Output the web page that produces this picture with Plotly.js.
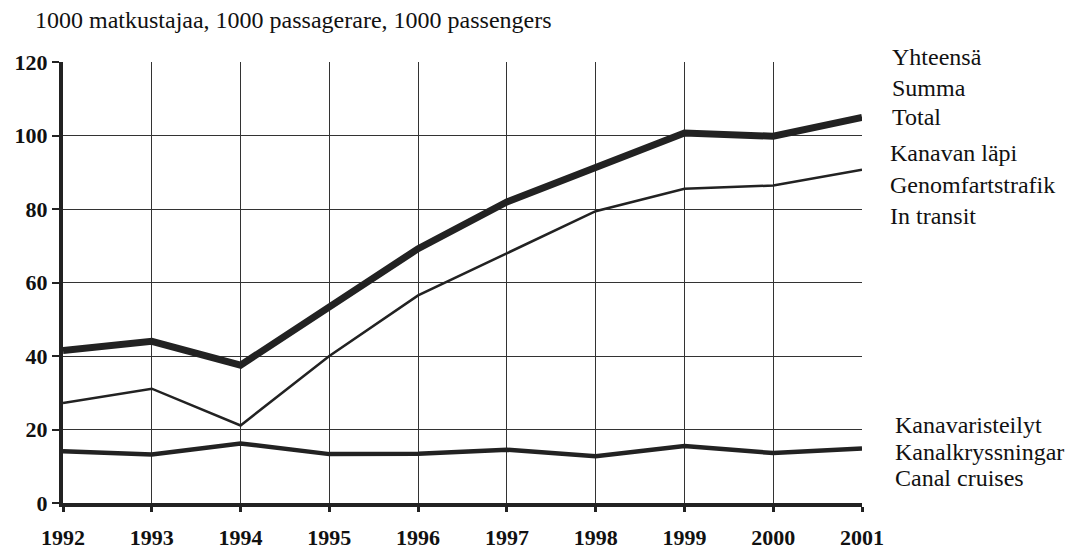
<!DOCTYPE html>
<html>
<head>
<meta charset="utf-8">
<script src="https://cdn.plot.ly/plotly-3.0.1.min.js"></script>
<style>html,body{margin:0;padding:0;background:#fff;}#chart{width:1074px;height:550px;}</style>
</head>
<body>
<div id="chart"></div>
<script>
const years = [1992, 1993, 1994, 1995, 1996, 1997, 1998, 1999, 2000, 2001];
const total = [41.5, 44.0, 37.5, 53.3, 69.2, 81.9, 91.3, 100.7, 99.8, 104.9];
const transit = [27.2, 31.1, 21.1, 40.0, 56.5, 67.9, 79.4, 85.5, 86.4, 90.7];
const cruises = [14.1, 13.2, 16.2, 13.3, 13.4, 14.5, 12.7, 15.5, 13.6, 14.8];
const yTicks = [0, 20, 40, 60, 80, 100, 120];
const unitLabel = "1000 matkustajaa, 1000 passagerare, 1000 passengers";
const totalLabels = ["Yhteensä", "Summa", "Total"];
const transitLabels = ["Kanavan läpi", "Genomfartstrafik", "In transit"];
const cruiseLabels = ["Kanavaristeilyt", "Kanalkryssningar", "Canal cruises"];

const ink = "#222";
const traces = [
  {x: years, y: total, mode: "lines", line: {color: ink, width: 7}, hoverinfo: "skip"},
  {x: years, y: transit, mode: "lines", line: {color: ink, width: 2.5}, hoverinfo: "skip"},
  {x: years, y: cruises, mode: "lines", line: {color: ink, width: 4.5}, hoverinfo: "skip"}
];

const serif = "\"Liberation Serif\", \"Times New Roman\", serif";
const yMax = 120;
const ann = [];
function addGroup(labels, ys, x) {
  labels.forEach((t, i) => ann.push({
    text: t, xref: "paper", yref: "paper", x: x, y: ys[i] / yMax, xanchor: "left", yanchor: "middle",
    showarrow: false, font: {family: serif, size: 24, color: "#111"}
  }));
}
addGroup(totalLabels, [121.3, 112.8, 105.0], 1.035);
addGroup(transitLabels, [95.2, 86.4, 78.2], 1.033);
addGroup(cruiseLabels, [21.1, 13.8, 6.7], 1.039);
ann.push({
  text: unitLabel, xref: "paper", yref: "paper", x: -0.038, y: 1.095, xanchor: "left", yanchor: "middle",
  showarrow: false, font: {family: serif, size: 24, color: "#111"}
});

const layout = {
  width: 1074, height: 550,
  margin: {l: 63, r: 212, t: 62, b: 47},
  paper_bgcolor: "#fff", plot_bgcolor: "#fff",
  showlegend: false,
  font: {family: serif, color: "#111"},
  xaxis: {
    range: [1992, 2001], tickvals: years, ticktext: years.map(String),
    showgrid: true, gridcolor: "#333", gridwidth: 1,
    showline: true, linecolor: ink, linewidth: 4,
    ticks: "outside", ticklen: 5, tickwidth: 3, tickcolor: ink,
    ticklabelstandoff: 7,
    tickfont: {family: serif, size: 22, color: "#111", weight: "bold"},
    zeroline: false, fixedrange: true
  },
  yaxis: {
    range: [0, yMax], tickvals: yTicks, ticktext: yTicks.map(String),
    showgrid: true, gridcolor: "#333", gridwidth: 1,
    showline: true, linecolor: ink, linewidth: 4,
    ticks: "outside", ticklen: 7, tickwidth: 2, tickcolor: ink,
    tickfont: {family: serif, size: 22, color: "#111", weight: "bold"},
    zeroline: false, fixedrange: true
  },
  annotations: ann
};

Plotly.newPlot("chart", traces, layout, {staticPlot: true});
</script>
</body>
</html>
